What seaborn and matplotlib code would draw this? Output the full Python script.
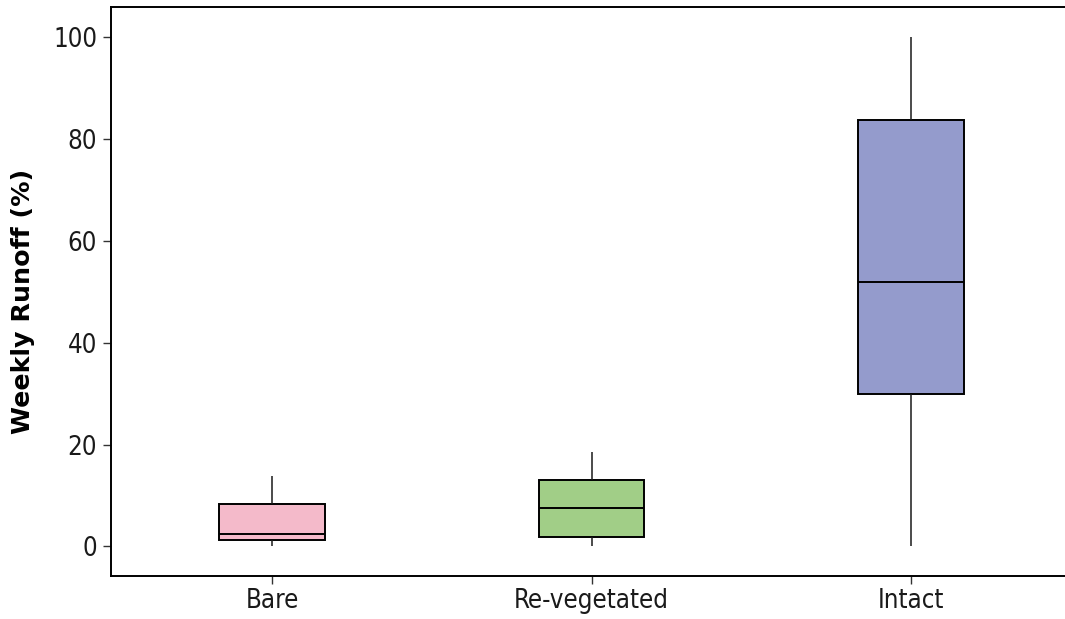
import matplotlib
matplotlib.use("Agg")
import matplotlib.pyplot as plt
import numpy as np
import pandas as pd
import seaborn as sns

# ---- data ----
categories = ["Bare", "Re-vegetated", "Intact"]
minimum = [0.0, 0.0, 0.0]
q1 = [1.2, 1.9, 30.0]
median = [2.4, 7.5, 52.0]
q3 = [8.3, 13.0, 83.8]
maximum = [13.9, 18.6, 100.0]
colors = ["#F4BACA", "#A1CE87", "#949BCC"]
yticks = [0, 20, 40, 60, 80, 100]
ylabel = "Weekly Runoff (%)"

rows = []
for cat, a, b, m, d, e in zip(categories, minimum, q1, median, q3, maximum):
    for v in (a, b, m, d, e):
        rows.append({"Treatment": cat, "Runoff": v})
df = pd.DataFrame(rows)

sns.set_style("ticks")
plt.rcParams["font.family"] = ["DejaVu Sans"]
plt.rcParams["font.stretch"] = "condensed"

fig = plt.figure(figsize=(10.65, 6.19), dpi=100)
ax = fig.add_axes([111 / 1065, 43 / 619, 961 / 1065, 568.7 / 619])

sns.boxplot(
    data=df, x="Treatment", y="Runoff", hue="Treatment", palette=colors,
    order=categories, hue_order=categories, legend=False,
    width=0.33, saturation=1, linecolor="black", linewidth=1.4,
    showcaps=False, fliersize=0, whis=1.5, ax=ax,
    whiskerprops={"linewidth": 1.1, "color": "#1a1a1a"},
)

ax.set_xlim(-0.504, 2.504)
ax.set_ylim(-5.8, 105.9)
ax.set_yticks(yticks)
ax.set_xlabel("")
ax.set_ylabel(ylabel, fontsize=18.3, fontweight="bold", color="black",
              fontstretch="normal")
ax.yaxis.set_label_coords(-0.079, 0.4827)

for side in ["left", "top", "bottom"]:
    ax.spines[side].set_linewidth(1.4)
    ax.spines[side].set_color("black")
ax.spines["right"].set_visible(False)

ax.tick_params(axis="both", length=6, width=1.0, color="#333333",
               labelsize=18.5, labelcolor="#1a1a1a")
ax.tick_params(axis="y", pad=4)
ax.tick_params(axis="x", pad=3)

fig.savefig("out.png", dpi=100)
